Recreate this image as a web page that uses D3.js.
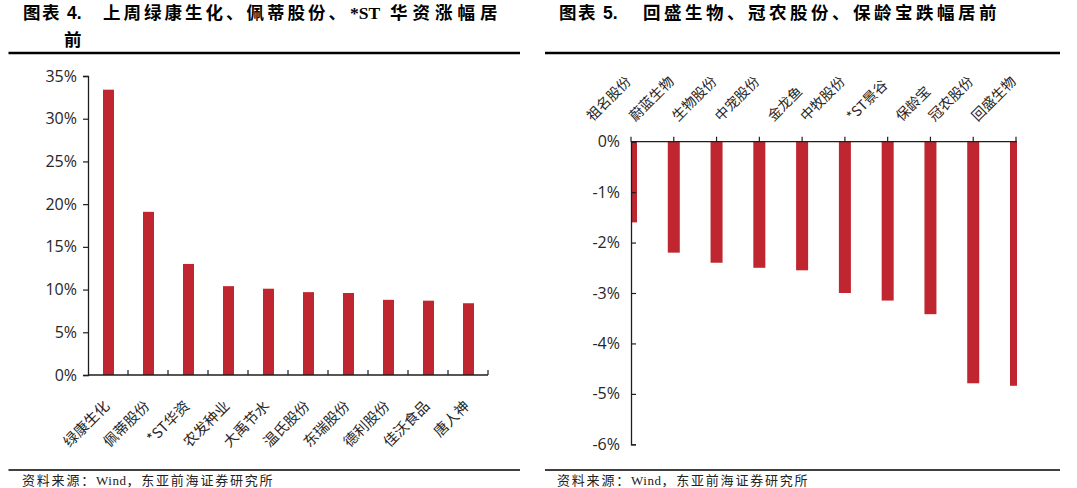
<!DOCTYPE html>
<html>
<head>
<meta charset="utf-8">
<script src="https://cdn.jsdelivr.net/npm/d3@7/dist/d3.min.js"></script>
<style>
  body { margin: 0; background: #fff; }
  text { font-family: "Noto Sans CJK SC", "Noto Sans", sans-serif; }
</style>
</head>
<body>
<div id="chart-area"></div>
<script>
// 数据：图表4（涨幅）
const leftCats = ["绿康生化", "佩蒂股份", "*ST华资", "农发种业", "大禹节水", "温氏股份", "东瑞股份", "德利股份", "佳沃食品", "唐人神"]
const leftVals = [33.4, 19.1, 13.0, 10.4, 10.1, 9.7, 9.6, 8.8, 8.7, 8.4]
const leftTicks = [0, 5, 10, 15, 20, 25, 30, 35]

// 数据：图表5（跌幅）
const rightCats = ["祖名股份", "蔚蓝生物", "生物股份", "中宠股份", "金龙鱼", "中牧股份", "*ST景谷", "保龄宝", "冠农股份", "回盛生物"]
const rightVals = [-1.6, -2.2, -2.4, -2.5, -2.55, -3.0, -3.15, -3.42, -4.79, -4.84]
const rightTicks = [0, -1, -2, -3, -4, -5, -6]

const barColor = "#c0262f"
const axisColor = "#1e1e1e"
const labelColor = "#262626"

const svg = d3.select("#chart-area").append("svg")
  .attr("width", 1077)
  .attr("height", 488)

svg.append("rect").attr("width", 1077).attr("height", 488).attr("fill", "#fff")

// ---------- 标题 ----------
function title(x0, num, parts, line2) {
  const t = svg.append("text")
    .attr("y", 19)
    .attr("font-size", "17.5px")
    .attr("font-weight", "bold")
    .attr("fill", "#000")
  t.append("tspan").attr("x", x0).attr("letter-spacing", "1.5px").text("图表")
  t.append("tspan").attr("x", x0 + 44)
    .style("font-family", "'Liberation Sans', Arial, sans-serif").text(num)
  parts.forEach(p => {
    const s = t.append("tspan").attr("x", p.x).attr("letter-spacing", p.ls + "px").text(p.text)
    if (p.serif) s.style("font-family", "'Liberation Serif', 'Times New Roman', serif")
  })
  if (line2) {
    svg.append("text")
      .attr("x", x0 + 41).attr("y", 46)
      .attr("font-size", "17.5px").attr("font-weight", "bold").attr("fill", "#000")
      .text(line2)
  }
}

title(23, "4.", [
  { x: 103, ls: 3, text: "上周绿康生化、佩蒂股份、" },
  { x: 350, ls: 0, text: "*ST", serif: true },
  { x: 390, ls: 5, text: "华资涨幅居" }
], "前")

title(559, "5.", [
  { x: 643, ls: 3.5, text: "回盛生物、冠农股份、保龄宝跌幅居前" }
])

// 标题下方横线、底部横线
;[[8.5, 520], [545, 1060]].forEach(([a, b]) => {
  svg.append("line").attr("x1", a).attr("x2", b).attr("y1", 53).attr("y2", 53)
    .attr("stroke", "#000").attr("stroke-width", 2.5)
  svg.append("line").attr("x1", a).attr("x2", b).attr("y1", 470).attr("y2", 470)
    .attr("stroke", "#000").attr("stroke-width", 1.5)
})

// 资料来源
;[22, 557].forEach(x0 => {
  const f = svg.append("text")
    .attr("x", x0).attr("y", 485)
    .attr("font-size", "13px").attr("fill", "#222")
    .attr("letter-spacing", "1.8px")
  f.append("tspan").text("资料来源：")
  f.append("tspan").style("font-family", "'Liberation Serif', serif").attr("letter-spacing", "0.5px").text("Wind")
  f.append("tspan").text("，东亚前海证券研究所")
})

// ---------- 图表4 ----------
const L = { left: 88, right: 488, top: 76, bottom: 375 }

const x1 = d3.scaleBand()
  .domain(leftCats)
  .range([L.left, L.right])
  .padding(0)

const y1 = d3.scaleLinear()
  .domain([0, 35])
  .range([L.bottom, L.top])

const g1 = svg.append("g")

// y 轴
const yAxis1 = g1.append("g")
  .attr("transform", `translate(${L.left}, 0)`)
  .call(d3.axisLeft(y1).tickValues(leftTicks).tickSize(5).tickPadding(6).tickFormat(d => d + "%"))
yAxis1.select(".domain").attr("stroke", axisColor).attr("stroke-width", 1.3)
yAxis1.selectAll(".tick line").attr("stroke", axisColor).attr("stroke-width", 1.2)
yAxis1.selectAll(".tick text")
  .attr("font-size", "16px").attr("fill", labelColor)
  .style("font-family", "'Open Sans', 'Noto Sans', sans-serif")

// 柱子
const bw1 = 11
g1.selectAll("rect.bar")
  .data(leftVals)
  .enter().append("rect")
  .attr("class", "bar")
  .attr("x", (d, i) => x1(leftCats[i]) + x1.bandwidth() / 2 - bw1 / 2 + 0.5)
  .attr("y", d => y1(d))
  .attr("width", bw1)
  .attr("height", d => y1(0) - y1(d))
  .attr("fill", barColor)

// x 轴
g1.append("line")
  .attr("x1", L.left).attr("x2", L.right)
  .attr("y1", y1(0)).attr("y2", y1(0))
  .attr("stroke", axisColor).attr("stroke-width", 1.3)

g1.selectAll("line.xtick")
  .data(leftCats)
  .enter().append("line")
  .attr("class", "xtick")
  .attr("x1", d => x1(d) + x1.bandwidth())
  .attr("x2", d => x1(d) + x1.bandwidth())
  .attr("y1", y1(0)).attr("y2", y1(0) - 5)
  .attr("stroke", axisColor).attr("stroke-width", 1.2)

g1.selectAll("text.xlab")
  .data(leftCats)
  .enter().append("text")
  .attr("class", "xlab")
  .attr("transform", d => `translate(${x1(d) + x1.bandwidth() / 2 + 2.5}, ${y1(0) + 32}) rotate(-45)`)
  .attr("text-anchor", "end")
  .attr("font-size", "14.5px")
  .attr("fill", labelColor)
  .text(d => d)

// ---------- 图表5 ----------
const R = { left: 631, right: 1016, top: 141.7, bottom: 444.3 }

const x2 = d3.scalePoint()
  .domain(rightCats)
  .range([R.left, R.right])

const y2 = d3.scaleLinear()
  .domain([0, -6])
  .range([R.top, R.bottom])

const g2 = svg.append("g")

svg.append("clipPath").attr("id", "clip-r")
  .append("rect")
  .attr("x", R.left).attr("y", R.top - 2)
  .attr("width", R.right + 1 - R.left).attr("height", R.bottom - R.top + 4)

const bw2 = 12
g2.append("g").attr("clip-path", "url(#clip-r)")
  .selectAll("rect")
  .data(rightVals)
  .enter().append("rect")
  .attr("x", (d, i) => x2(rightCats[i]) - bw2 / 2)
  .attr("y", y2(0))
  .attr("width", bw2)
  .attr("height", d => y2(d) - y2(0))
  .attr("fill", barColor)

// y 轴（刻度在内侧）
const yAxis2 = g2.append("g")
  .attr("transform", `translate(${R.left}, 0)`)
  .call(d3.axisLeft(y2).tickValues(rightTicks).tickSize(-5).tickPadding(11).tickFormat(d => d + "%"))
yAxis2.select(".domain").attr("stroke", axisColor).attr("stroke-width", 1.3)
yAxis2.selectAll(".tick line").attr("stroke", axisColor).attr("stroke-width", 1.2)
yAxis2.selectAll(".tick text")
  .attr("font-size", "16px").attr("fill", labelColor)
  .style("font-family", "'Open Sans', 'Noto Sans', sans-serif")

// x 轴（在顶部）
g2.append("line")
  .attr("x1", R.left).attr("x2", R.right + 1)
  .attr("y1", y2(0)).attr("y2", y2(0))
  .attr("stroke", axisColor).attr("stroke-width", 1.3)

g2.selectAll("line.xtick")
  .data(rightCats)
  .enter().append("line")
  .attr("class", "xtick")
  .attr("x1", d => x2(d)).attr("x2", d => x2(d))
  .attr("y1", y2(0)).attr("y2", y2(0) - 5)
  .attr("stroke", axisColor).attr("stroke-width", 1.2)

// 标签：右下角对齐到刻度
g2.selectAll("text.xlab")
  .data(rightCats)
  .enter().append("text")
  .attr("class", "xlab")
  .attr("text-anchor", "end")
  .attr("font-size", "14px")
  .attr("fill", labelColor)
  .text(d => d)
  .each(function (d) {
    const len = this.getComputedTextLength()
    const ex = x2(d) + 1
    const ey = 122 - len * Math.SQRT1_2
    d3.select(this).attr("transform", `translate(${ex}, ${ey}) rotate(-45)`)
  })
</script>
</body>
</html>
